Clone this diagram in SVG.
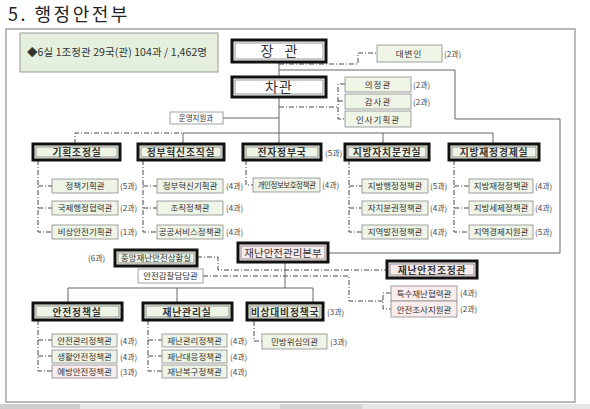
<svg xmlns="http://www.w3.org/2000/svg" width="590" height="409" viewBox="0 0 590 409">
<style>
.t{font-family:"Noto Sans CJK KR","Noto Sans",sans-serif;fill:#333;text-anchor:middle}
.c{font-family:"Noto Sans CJK KR","Noto Sans",sans-serif;fill:#444;font-size:8px}
.s{font-size:8.5px}
.b{font-size:9.8px;font-weight:bold;letter-spacing:0.8px}
.g{fill:#eef4e6;stroke:#8a8a8a;stroke-width:0.8}
.w{fill:#fff;stroke:#8a8a8a;stroke-width:0.8}
.p{fill:#f8ecec;stroke:#8a8a8a;stroke-width:0.8}
.k{stroke:#111;stroke-width:3}
.ki{fill:none;stroke:#555;stroke-width:0.6}
.gk{fill:#eef4e6}
.pk{fill:#f8ecec}
.wk{fill:#fff}
.dd{fill:none;stroke:#333;stroke-width:0.9;stroke-dasharray:5 2 1 2}
.sl{fill:none;stroke:#555;stroke-width:0.9}
</style>
<rect x="0" y="0" width="590" height="409" fill="#fff"/>
<text x="8" y="21" font-family="'Noto Sans CJK KR',sans-serif" font-size="18" fill="#222" letter-spacing="2.5">5. 행정안전부</text>
<rect x="6" y="29" width="569" height="373" fill="none" stroke="#8c8c8c" stroke-width="1.2"/>
<rect x="0" y="404" width="590" height="5" fill="#e6e6e6"/>
<rect x="0" y="404" width="80" height="5" fill="#cfcfcf"/>
<rect x="280" y="404" width="82" height="5" fill="#d3d3d3"/>

<g id="info"><rect x="20" y="33" width="198" height="39" fill="#e5efdd" stroke="#999" stroke-width="1"/>
<text x="27" y="56" font-family="'Noto Sans CJK KR',sans-serif" font-size="10.5" fill="#333" textLength="180" lengthAdjust="spacing">◆6실 1조정관 29국(관) 104과 / 1,462명</text></g>

<g id="connectors">
<polyline class="sl" points="279,62 279,77"/>
<polyline class="sl" points="279,97 279,144"/>
<polyline class="dd" points="279,64 358,64 358,53 377,53"/>
<polyline class="dd" points="279,107 338,107"/>
<polyline class="dd" points="345,84 338,84 338,119 345,119"/>
<polyline class="dd" points="338,101 345,101"/>
<polyline class="sl" points="223,118 279,118"/>
<polyline class="sl" points="279,70 455,70 455,119 560,119 560,253 328,253"/>
<polyline class="dd" points="75,144 75,133 183,133"/>
<polyline class="sl" points="183,144 183,133 493,133 493,144"/>
<polyline class="sl" points="383,133 383,144"/>
<polyline class="dd" points="38,160 38,232 52,232"/><polyline class="dd" points="38,186 52,186"/><polyline class="dd" points="38,208 52,208"/>
<polyline class="dd" points="143,160 143,232 157,232"/><polyline class="dd" points="143,186 157,186"/><polyline class="dd" points="143,208 157,208"/>
<polyline class="dd" points="246,160 246,185 253,185"/>
<polyline class="dd" points="349,160 349,232 362,232"/><polyline class="dd" points="349,186 362,186"/><polyline class="dd" points="349,208 362,208"/>
<polyline class="dd" points="454,160 454,232 469,232"/><polyline class="dd" points="454,186 469,186"/><polyline class="dd" points="454,208 469,208"/>
<polyline class="dd" points="197,257 218,257 218,270 387,270"/>
<polyline class="dd" points="203,276 349,276 349,301 383,301"/>
<polyline class="dd" points="391,293 383,293 383,309 391,309"/>
<polyline class="sl" points="285,262 285,288"/>
<polyline class="sl" points="68,303 68,288 313,288 313,303"/>
<polyline class="sl" points="177,288 177,303"/>
<polyline class="dd" points="38,320 38,371 52,371"/><polyline class="dd" points="38,340 52,340"/><polyline class="dd" points="38,356 52,356"/>
<polyline class="dd" points="148,320 148,371 162,371"/><polyline class="dd" points="148,340 162,340"/><polyline class="dd" points="148,356 162,356"/>
<polyline class="dd" points="254,321 254,341 262,341"/>
</g>

<g id="minister"><rect class="wk k" x="232" y="40" width="94" height="22"/><rect class="ki" x="235" y="43" width="88" height="16"/>
<text class="t" x="279" y="56" font-size="14" word-spacing="8">장 관</text></g>
<g id="vice"><rect class="wk k" x="232" y="77" width="94" height="20"/><rect class="ki" x="235" y="80" width="88" height="14"/>
<text class="t" x="279" y="92" font-size="14" letter-spacing="1">차관</text></g>
<g id="spokes"><rect class="g" x="377" y="45" width="65" height="17"/><text class="t s" x="409" y="57" letter-spacing="1">대변인</text><text class="c" x="444" y="57">(2과)</text></g>
<g id="uijeong"><rect class="g" x="345" y="77" width="66" height="15"/><text class="t s" x="378" y="88" letter-spacing="1">의정관</text><text class="c" x="413" y="88">(2과)</text></g>
<g id="gamsa"><rect class="g" x="345" y="94" width="66" height="15"/><text class="t s" x="378" y="105" letter-spacing="1">감사관</text><text class="c" x="413" y="105">(2과)</text></g>
<g id="insa"><rect class="g" x="345" y="111" width="66" height="16"/><text class="t s" x="378" y="123" letter-spacing="1">인사기획관</text></g>
<g id="unyeong"><rect class="w" x="170" y="112" width="53" height="12"/><text class="t" x="196" y="121" font-size="7.5">운영지원과</text></g>

<g id="gihoek"><rect class="gk k" x="33" y="144" width="87" height="16"/><rect class="ki" x="36" y="147" width="81" height="10"/><text class="t b" x="77" y="156">기획조정실</text></g>
<g id="hyeoksin"><rect class="gk k" x="138" y="144" width="86" height="16"/><rect class="ki" x="141" y="147" width="80" height="10"/><text class="t b" x="181" y="156">정부혁신조직실</text></g>
<g id="jeonja"><rect class="gk k" x="243" y="144" width="78" height="16"/><rect class="ki" x="246" y="147" width="72" height="10"/><text class="t b" x="282" y="156">전자정부국</text><text class="c" x="325" y="156">(5과)</text></g>
<g id="jabang"><rect class="gk k" x="345" y="144" width="84" height="16"/><rect class="ki" x="348" y="147" width="78" height="10"/><text class="t b" x="387" y="156">지방자치분권실</text></g>
<g id="jaejeong"><rect class="gk k" x="449" y="144" width="90" height="16"/><rect class="ki" x="452" y="147" width="84" height="10"/><text class="t b" x="494" y="156">지방재정경제실</text></g>

<g id="s1"><rect class="g" x="52" y="179" width="66" height="14"/><text class="t s" x="85" y="189">정책기획관</text><text class="c" x="120" y="189">(5과)</text></g>
<g id="s2"><rect class="g" x="52" y="201" width="66" height="14"/><text class="t s" x="85" y="211">국제행정협력관</text><text class="c" x="120" y="211">(2과)</text></g>
<g id="s3"><rect class="g" x="52" y="225" width="66" height="14"/><text class="t s" x="85" y="235">비상안전기획관</text><text class="c" x="120" y="235">(1과)</text></g>
<g id="s4"><rect class="g" x="157" y="179" width="66" height="14"/><text class="t s" x="190" y="189">정부혁신기획관</text><text class="c" x="226" y="189">(4과)</text></g>
<g id="s5"><rect class="g" x="157" y="201" width="66" height="14"/><text class="t s" x="190" y="211">조직정책관</text><text class="c" x="226" y="211">(4과)</text></g>
<g id="s6"><rect class="g" x="157" y="225" width="66" height="14"/><text class="t s" x="190" y="235">공공서비스정책관</text><text class="c" x="226" y="235">(4과)</text></g>
<g id="s7"><rect class="g" x="253" y="178" width="67" height="14"/><text class="t" x="286.5" y="188" font-size="7.5" letter-spacing="-0.5">개인정보보호정책관</text><text class="c" x="322" y="188">(4과)</text></g>
<g id="s8"><rect class="g" x="362" y="179" width="66" height="14"/><text class="t s" x="395" y="189">지방행정정책관</text><text class="c" x="430" y="189">(5과)</text></g>
<g id="s9"><rect class="g" x="362" y="201" width="66" height="14"/><text class="t s" x="395" y="211">자치분권정책관</text><text class="c" x="430" y="211">(4과)</text></g>
<g id="s10"><rect class="g" x="362" y="225" width="66" height="14"/><text class="t s" x="395" y="235">지역발전정책관</text><text class="c" x="430" y="235">(4과)</text></g>
<g id="s11"><rect class="g" x="469" y="179" width="64" height="14"/><text class="t s" x="501" y="189">지방재정정책관</text><text class="c" x="535" y="189">(4과)</text></g>
<g id="s12"><rect class="g" x="469" y="201" width="64" height="14"/><text class="t s" x="501" y="211">지방세제정책관</text><text class="c" x="535" y="211">(4과)</text></g>
<g id="s13"><rect class="g" x="469" y="225" width="64" height="14"/><text class="t s" x="501" y="235">지역경제지원관</text><text class="c" x="535" y="235">(5과)</text></g>

<g id="bonbu"><rect class="pk k" x="238" y="243" width="90" height="19"/><rect class="ki" x="241" y="246" width="84" height="13"/><text class="t" x="283" y="257" font-size="10.5">재난안전관리본부</text></g>
<g id="sanghwang"><rect class="gk k" x="115" y="250" width="82" height="16"/><rect class="ki" x="118" y="253" width="76" height="10"/><text class="t s" x="156" y="261">중앙재난안전상황실</text><text class="c" x="88" y="261">(6과)</text></g>
<g id="gamchal"><rect class="w" x="138" y="269" width="65" height="14"/><text class="t s" x="170.5" y="279">안전감찰담당관</text></g>
<g id="jojeong"><rect class="pk k" x="387" y="261" width="90" height="17"/><rect class="ki" x="390" y="264" width="84" height="11"/><text class="t b" x="432" y="273.5">재난안전조정관</text></g>
<g id="teuksu"><rect class="p" x="391" y="286" width="66" height="15"/><text class="t s" x="424" y="297">특수재난협력관</text><text class="c" x="460" y="296">(4과)</text></g>
<g id="josa"><rect class="p" x="391" y="301" width="66" height="16"/><text class="t s" x="424" y="312.5">안전조사지원관</text><text class="c" x="460" y="312">(2과)</text></g>

<g id="anjeon"><rect class="gk k" x="33" y="303" width="89" height="17"/><rect class="ki" x="36" y="306" width="83" height="11"/><text class="t b" x="77" y="315.5">안전정책실</text></g>
<g id="jaenan"><rect class="gk k" x="143" y="303" width="89" height="17"/><rect class="ki" x="146" y="306" width="83" height="11"/><text class="t b" x="187" y="315.5">재난관리실</text></g>
<g id="bisang"><rect class="gk k" x="247" y="303" width="76" height="17"/><rect class="ki" x="250" y="306" width="70" height="11"/><text class="t b" x="285" y="315.5">비상대비정책국</text><text class="c" x="327" y="315">(3과)</text></g>

<g id="s14"><rect class="g" x="52" y="334" width="65" height="13"/><text class="t s" x="84.5" y="343.5">안전관리정책관</text><text class="c" x="120" y="343.5">(4과)</text></g>
<g id="s15"><rect class="g" x="52" y="350" width="65" height="13"/><text class="t s" x="84.5" y="359.5">생활안전정책관</text><text class="c" x="120" y="359.5">(4과)</text></g>
<g id="s16"><rect class="p" x="52" y="365" width="65" height="13"/><text class="t s" x="84.5" y="374.5">예방안전정책관</text><text class="c" x="120" y="374.5">(3과)</text></g>
<g id="s17"><rect class="g" x="162" y="334" width="65" height="13"/><text class="t s" x="194.5" y="343.5">재난관리정책관</text><text class="c" x="230" y="343.5">(4과)</text></g>
<g id="s18"><rect class="g" x="162" y="350" width="65" height="13"/><text class="t s" x="194.5" y="359.5">재난대응정책관</text><text class="c" x="230" y="359.5">(4과)</text></g>
<g id="s19"><rect class="g" x="162" y="365" width="65" height="13"/><text class="t s" x="194.5" y="374.5">재난복구정책관</text><text class="c" x="230" y="374.5">(4과)</text></g>
<g id="s20"><rect class="g" x="262" y="334" width="65" height="15"/><text class="t s" x="294.5" y="344.5">민방위심의관</text><text class="c" x="330" y="344.5">(3과)</text></g>
</svg>
